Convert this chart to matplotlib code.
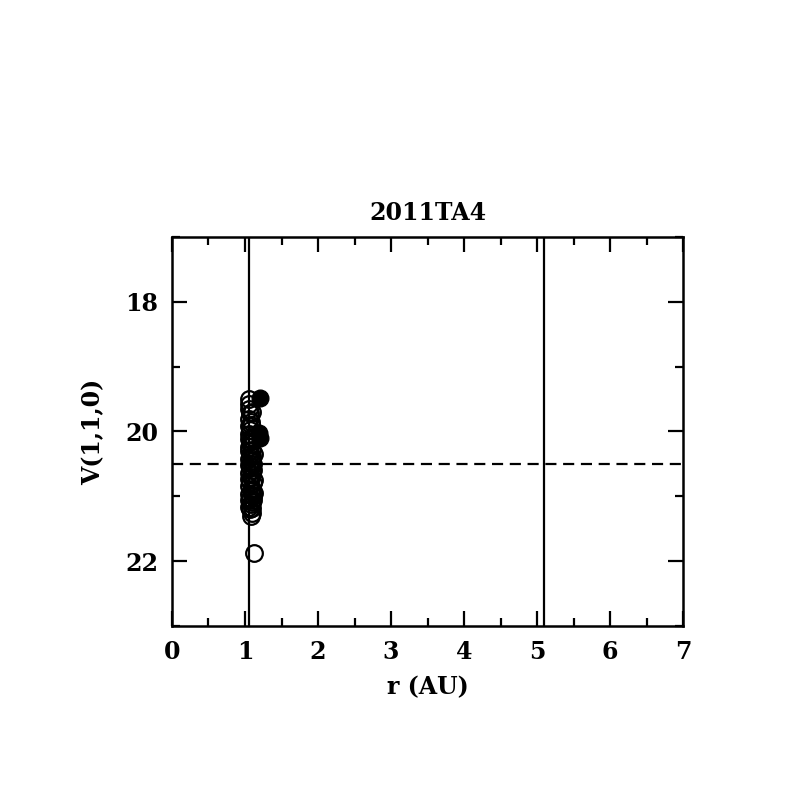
import matplotlib
matplotlib.use('Agg')
import matplotlib.pyplot as plt
from matplotlib.ticker import MultipleLocator

plt.rc('font', family='DejaVu Serif', weight='bold')
plt.rc('axes', titleweight='bold', labelweight='bold')

# open circles: r (AU), V(1,1,0)
r_open = [1.05, 1.06, 1.05, 1.07, 1.06, 1.08, 1.05, 1.07, 1.06, 1.09,
          1.05, 1.07, 1.08, 1.06, 1.10, 1.05, 1.07, 1.09, 1.06, 1.08,
          1.11, 1.05, 1.07, 1.09, 1.06, 1.10, 1.08, 1.05, 1.07, 1.11,
          1.06, 1.09, 1.08, 1.05, 1.10, 1.07, 1.06, 1.09, 1.08, 1.11,
          1.06, 1.10, 1.07, 1.09, 1.08, 1.12, 1.10, 1.12, 1.09, 1.11,
          1.12, 1.10, 1.08, 1.11, 1.12, 1.09]
v_open = [19.50, 19.58, 19.66, 19.72, 19.80, 19.86, 19.92, 19.98, 20.04, 20.08,
          20.12, 20.16, 20.20, 20.24, 20.28, 20.30, 20.34, 20.38, 20.42, 20.46,
          20.50, 20.52, 20.56, 20.60, 20.64, 20.66, 20.70, 20.74, 20.78, 20.80,
          20.84, 20.88, 20.92, 20.96, 20.98, 21.02, 21.06, 21.08, 21.12, 21.00,
          21.16, 20.90, 21.20, 21.25, 21.30, 21.88, 19.70, 20.35, 20.15, 20.60,
          20.75, 20.45, 19.90, 21.05, 20.95, 21.18]

# filled circles
r_fill = [1.20, 1.19, 1.20]
v_fill = [19.48, 20.02, 20.10]

r_lines = [1.06, 5.10]
v_limit = 20.5

fig = plt.figure(figsize=(7.97, 7.97), dpi=100)
ax = fig.add_axes([0.2158, 0.2146, 0.6412, 0.488])

ax.plot(r_open, v_open, 'o', ms=12, mfc='none', mec='k', mew=1.6)
ax.plot(r_fill, v_fill, 'o', ms=12, mfc='k', mec='k')
for r in r_lines:
    ax.axvline(r, c='k', lw=1.6)
ax.axhline(v_limit, c='k', lw=1.6, ls=(0, (5, 3)))

ax.set_xlim(0, 7)
ax.set_ylim(23, 17)
ax.xaxis.set_major_locator(MultipleLocator(1))
ax.xaxis.set_minor_locator(MultipleLocator(0.5))
ax.yaxis.set_major_locator(MultipleLocator(2))
ax.yaxis.set_minor_locator(MultipleLocator(1))
ax.tick_params(which='both', direction='in', top=True, right=True, width=1.6,
               labelsize=17, pad=10)
ax.tick_params(which='major', length=11)
ax.tick_params(which='minor', length=6)
for s in ax.spines.values():
    s.set_linewidth(1.8)

ax.set_xlabel('r (AU)', fontsize=17, labelpad=8)
ax.set_ylabel('V(1,1,0)', fontsize=17, labelpad=14)
ax.set_title('2011TA4', fontsize=17, pad=12)

fig.savefig('out.png', dpi=100)
